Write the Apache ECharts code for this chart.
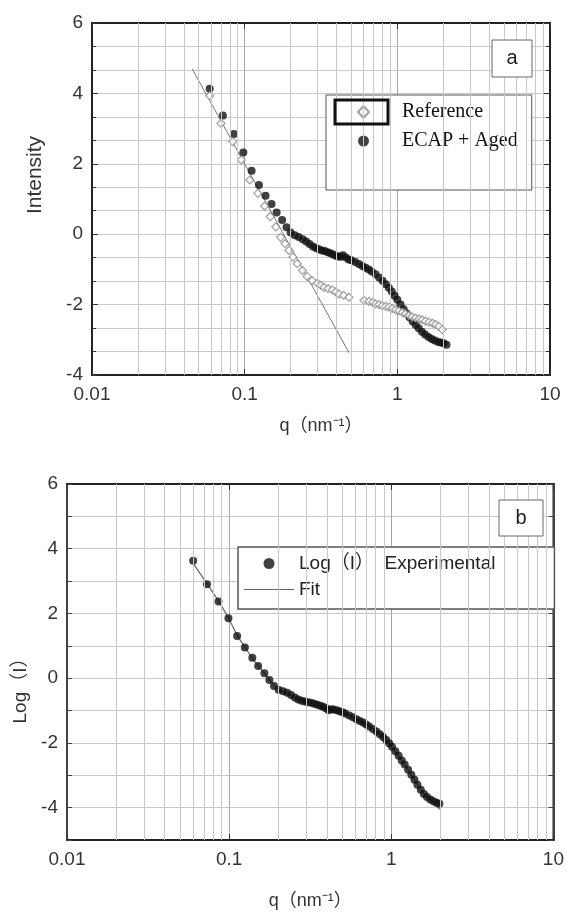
<!DOCTYPE html>
<html>
<head>
<meta charset="utf-8">
<script src="https://cdn.jsdelivr.net/npm/echarts@6/dist/echarts.min.js"></script>
<style>
  html, body { margin: 0; padding: 0; background: #fff; }
  #chart { width: 567px; height: 918px; }
</style>
</head>
<body>
<div id="chart"></div>
<script>
// ---- tick labels ----
const xTickLabels = ['0.01', '0.1', '1', '10'];
const yTickLabelsA = ['-4', '-2', '0', '2', '4', '6'];
const yTickLabelsB = ['-4', '-2', '0', '2', '4', '6'];
// minor log grid positions (2..9 of each decade)
const minorQ = [0.02, 0.03, 0.04, 0.05, 0.06, 0.07, 0.08, 0.09,
  0.2, 0.3, 0.4, 0.5, 0.6, 0.7, 0.8, 0.9,
  2, 3, 4, 5, 6, 7, 8, 9];

// ---- panel a : Reference (open diamonds) ----
const refQ = [0.059, 0.070, 0.0835, 0.095, 0.108, 0.122, 0.135, 0.147, 0.160, 0.172,
  0.184, 0.195, 0.207, 0.221, 0.239, 0.257, 0.277, 0.299, 0.315, 0.331,
  0.352, 0.375, 0.395, 0.415, 0.445, 0.482, 0.605, 0.652, 0.690, 0.721,
  0.760, 0.798, 0.840, 0.881, 0.925, 0.975, 1.025, 1.079, 1.13, 1.192,
  1.25, 1.318, 1.39, 1.458, 1.53, 1.611, 1.70, 1.782, 1.87, 1.972];
const refI = [3.93, 3.15, 2.63, 2.11, 1.54, 1.16, 0.80, 0.50, 0.21, -0.09,
  -0.27, -0.46, -0.65, -0.84, -1.03, -1.20, -1.32, -1.39, -1.45, -1.51,
  -1.55, -1.58, -1.64, -1.70, -1.74, -1.79, -1.88, -1.91, -1.94, -1.98,
  -2.00, -2.03, -2.05, -2.07, -2.11, -2.15, -2.18, -2.22, -2.26, -2.31,
  -2.35, -2.38, -2.41, -2.43, -2.47, -2.50, -2.53, -2.57, -2.62, -2.71];

// ---- panel a : ECAP + Aged (filled circles) ----
const ecapQ = [0.059, 0.072, 0.085, 0.098, 0.111, 0.124, 0.137, 0.150, 0.162, 0.176,
  0.188, 0.200, 0.213, 0.226, 0.240, 0.253, 0.266, 0.280, 0.293, 0.306,
  0.320, 0.335, 0.350, 0.365, 0.380, 0.395, 0.410, 0.425, 0.440, 0.460,
  0.480, 0.500, 0.530, 0.560, 0.590, 0.620, 0.650, 0.680, 0.720, 0.760,
  0.800, 0.840, 0.880, 0.920, 0.960, 1.00, 1.05, 1.10, 1.15, 1.20,
  1.26, 1.32, 1.38, 1.45, 1.52, 1.60, 1.68, 1.76, 1.85, 1.93, 2.01, 2.10];
const ecapI = [4.13, 3.37, 2.85, 2.32, 1.80, 1.40, 1.09, 0.86, 0.62, 0.40,
  0.20, 0.05, -0.03, -0.08, -0.14, -0.21, -0.28, -0.35, -0.39, -0.43,
  -0.46, -0.48, -0.51, -0.54, -0.58, -0.61, -0.63, -0.64, -0.60, -0.66,
  -0.72, -0.74, -0.79, -0.85, -0.90, -0.95, -1.00, -1.06, -1.14, -1.23,
  -1.32, -1.42, -1.52, -1.63, -1.75, -1.86, -2.00, -2.13, -2.25, -2.36,
  -2.48, -2.58, -2.67, -2.77, -2.85, -2.92, -2.98, -3.02, -3.06, -3.08, -3.10, -3.14];

// ---- panel a : straight fit line ----
const fitAQ = [0.0454, 0.483];
const fitAI = [4.69, -3.37];

// ---- panel b : Log(I) experimental ----
const expQ = [0.060, 0.073, 0.086, 0.099, 0.112, 0.125, 0.139, 0.151, 0.165, 0.177,
  0.189, 0.202, 0.215, 0.228, 0.241, 0.254, 0.267, 0.280, 0.293, 0.306,
  0.320, 0.335, 0.350, 0.365, 0.380, 0.395, 0.410, 0.425, 0.440, 0.460,
  0.480, 0.500, 0.520, 0.550, 0.580, 0.610, 0.640, 0.670, 0.700, 0.730,
  0.770, 0.810, 0.850, 0.890, 0.930, 0.970, 1.01, 1.06, 1.11, 1.16,
  1.21, 1.27, 1.33, 1.39, 1.45, 1.52, 1.59, 1.66, 1.74, 1.82, 1.90, 1.98];
const expLogI = [3.63, 2.90, 2.37, 1.85, 1.30, 0.95, 0.63, 0.38, 0.15, -0.06,
  -0.24, -0.36, -0.40, -0.45, -0.52, -0.60, -0.66, -0.70, -0.72, -0.74,
  -0.76, -0.79, -0.82, -0.85, -0.88, -0.93, -0.99, -0.96, -0.97, -0.99,
  -1.02, -1.05, -1.09, -1.15, -1.21, -1.27, -1.32, -1.37, -1.43, -1.49,
  -1.57, -1.65, -1.73, -1.82, -1.91, -2.01, -2.12, -2.26, -2.40, -2.54,
  -2.67, -2.83, -2.98, -3.14, -3.29, -3.45, -3.58, -3.67, -3.75, -3.80, -3.85, -3.88];

// ---- panel b : fit curve ----
const fitBQ = [0.060, 0.073, 0.086, 0.099, 0.112, 0.125, 0.139, 0.151, 0.165, 0.177,
  0.190, 0.200, 0.250, 0.300, 0.400, 0.500, 0.600, 0.700, 0.800, 0.900,
  1.00, 1.20, 1.40, 1.60, 1.80, 1.99];
const fitBLogI = [3.55, 2.92, 2.38, 1.86, 1.33, 0.96, 0.62, 0.38, 0.15, -0.05,
  -0.22, -0.33, -0.57, -0.73, -0.92, -1.05, -1.25, -1.43, -1.63, -1.84,
  -2.10, -2.65, -3.16, -3.58, -3.82, -4.05];

const pairs = (xs, ys) => xs.map((x, i) => [x, ys[i]]);

const sans = "'Liberation Sans', 'Noto Sans CJK SC', sans-serif";
const gridLine = '#c8c8c8';

function logX(gridIndex, bottom, nameGap) {
  return {
    type: 'log', logBase: 10, gridIndex: gridIndex, min: 0.01, max: 10, interval: 1,
    position: bottom ? 'bottom' : 'top',
    name: bottom ? 'q（nm⁻¹）' : '', nameLocation: 'middle', nameGap: nameGap,
    nameTextStyle: { fontFamily: sans, fontSize: 18, color: '#333' },
    axisLine: { show: true, onZero: false, lineStyle: { color: '#222', width: 2 } },
    axisTick: { show: true, inside: true, length: 6, lineStyle: { color: '#333' } },
    axisLabel: {
      show: bottom, margin: 10, fontFamily: sans, fontSize: 19, color: '#333',
      formatter: v => xTickLabels[Math.round(Math.log10(v)) + 2]
    },
    splitLine: { show: bottom, lineStyle: { color: '#a8a8a8', width: 1 } }
  };
}

const option = {
  backgroundColor: '#fff',
  animation: false,
  grid: [
    { left: 92, top: 23, width: 458, height: 352, show: true, borderColor: '#222', borderWidth: 2, backgroundColor: '#fff' },
    { left: 67, top: 484, width: 491, height: 356, show: true, borderColor: '#444', borderWidth: 2, backgroundColor: '#fff' }
  ],
  xAxis: [
    logX(0, true, 42),
    logX(0, false, 0),
    logX(1, true, 52),
    logX(1, false, 0)
  ],
  yAxis: [
    {
      type: 'value', gridIndex: 0, min: -4, max: 6, interval: 2, position: 'left',
      name: 'Intensity', nameLocation: 'middle', nameGap: 46,
      nameTextStyle: { fontFamily: sans, fontSize: 21, color: '#333', padding: [0, 0, 0, 48] },
      axisLine: { show: true, onZero: false, lineStyle: { color: '#222', width: 2 } },
      axisTick: { show: true, inside: true, length: 6, lineStyle: { color: '#333' } },
      minorTick: { show: true, splitNumber: 3, length: 4, lineStyle: { color: '#333' } },
      axisLabel: { margin: 9, fontFamily: sans, fontSize: 19, color: '#333',
        formatter: v => yTickLabelsA.includes(String(v)) ? String(v) : '' },
      splitLine: { show: true, lineStyle: { color: gridLine } },
      minorSplitLine: { show: true, lineStyle: { color: gridLine } }
    },
    {
      type: 'value', gridIndex: 0, min: -4, max: 6, interval: 2, position: 'right',
      axisLine: { show: true, onZero: false, lineStyle: { color: '#222', width: 2 } },
      axisTick: { show: true, inside: true, length: 6, lineStyle: { color: '#333' } },
      minorTick: { show: true, splitNumber: 3, length: 4, lineStyle: { color: '#333' } },
      axisLabel: { show: false },
      splitLine: { show: false }
    },
    {
      type: 'value', gridIndex: 1, min: -5, max: 6, interval: 1, position: 'left',
      name: 'Log（I）', nameLocation: 'middle', nameGap: 34,
      nameTextStyle: { fontFamily: sans, fontSize: 19, color: '#333', padding: [0, 48, 0, 0] },
      axisLine: { show: true, onZero: false, lineStyle: { color: '#444', width: 2 } },
      axisTick: { show: true, inside: true, length: 5, lineStyle: { color: '#444' } },
      axisLabel: { margin: 9, fontFamily: sans, fontSize: 19, color: '#333',
        formatter: v => yTickLabelsB.includes(String(v)) ? String(v) : '' },
      splitLine: { show: true, lineStyle: { color: gridLine } }
    },
    {
      type: 'value', gridIndex: 1, min: -5, max: 6, interval: 1, position: 'right',
      axisLine: { show: true, onZero: false, lineStyle: { color: '#444', width: 2 } },
      axisTick: { show: true, inside: true, length: 5, lineStyle: { color: '#444' } },
      axisLabel: { show: false },
      splitLine: { show: false }
    }
  ],
  legend: [
    {
      data: [{ name: 'Reference', icon: 'diamond' }, { name: 'ECAP + Aged', icon: 'circle' }],
      orient: 'vertical', left: 326, top: 95,
      padding: [7, 14, 39, 31], itemWidth: 11, itemHeight: 12, itemGap: 9,
      textStyle: { fontFamily: "'Liberation Serif', serif", fontSize: 20, color: '#111', padding: [0, 0, 0, 28] },
      borderColor: '#555', borderWidth: 1, backgroundColor: '#fff', selectedMode: false
    },
    {
      data: [
        { name: 'Log（I）  Experimental', icon: 'circle' },
        { name: 'Fit', icon: 'path://M0 0 L50 0 L50 1 L0 1 Z', itemStyle: { color: '#666' } }
      ],
      orient: 'vertical', left: 238, top: 547,
      padding: [7, 59, 10, 6], itemWidth: 50, itemHeight: 11, itemGap: 7,
      textStyle: { fontFamily: sans, fontSize: 19, color: '#222' },
      borderColor: '#555', borderWidth: 1.5, backgroundColor: '#fff', selectedMode: false
    }
  ],
  graphic: [
    { type: 'rect', shape: { x: 335, y: 100, width: 53, height: 24 },
      style: { fill: 'none', stroke: '#111', lineWidth: 3 }, z: 100 },
    { type: 'rect', shape: { x: 492, y: 40, width: 40, height: 37 },
      style: { fill: '#fff', stroke: '#666', lineWidth: 1 }, z: 100 },
    { type: 'text', x: 512, y: 58, z: 101,
      style: { text: 'a', fontFamily: sans, fontSize: 20, fill: '#222', align: 'center', verticalAlign: 'middle' } },
    { type: 'rect', shape: { x: 499, y: 500, width: 44, height: 36 },
      style: { fill: '#fff', stroke: '#666', lineWidth: 1 }, z: 100 },
    { type: 'text', x: 521, y: 518, z: 101,
      style: { text: 'b', fontFamily: sans, fontSize: 20, fill: '#222', align: 'center', verticalAlign: 'middle' } }
  ],
  series: [
    {
      name: 'fitA', type: 'line', xAxisIndex: 0, yAxisIndex: 0,
      data: pairs(fitAQ, fitAI), symbol: 'none', silent: true, z: 1,
      lineStyle: { color: '#777', width: 1 },
      markLine: {
        silent: true, symbol: ['none', 'none'], label: { show: false },
        lineStyle: { color: gridLine, width: 1, type: 'solid' },
        emphasis: { disabled: true },
        data: minorQ.map(q => ({ xAxis: q }))
      }
    },
    {
      name: 'ECAP + Aged', type: 'scatter', xAxisIndex: 0, yAxisIndex: 0,
      data: pairs(ecapQ, ecapI), symbol: 'circle', symbolSize: 8, z: 3,
      itemStyle: { color: '#111' }
    },
    {
      name: 'Reference', type: 'scatter', xAxisIndex: 0, yAxisIndex: 0,
      data: pairs(refQ, refI), symbol: 'diamond', symbolSize: 8, z: 4,
      itemStyle: { color: '#fff', borderColor: '#888', borderWidth: 1.2 }
    },
    {
      name: 'Fit', type: 'line', xAxisIndex: 2, yAxisIndex: 2,
      data: pairs(fitBQ, fitBLogI), symbol: 'none', smooth: true, silent: true, z: 1,
      itemStyle: { color: '#666' },
      lineStyle: { color: '#666', width: 1.2 },
      markLine: {
        silent: true, symbol: ['none', 'none'], label: { show: false },
        lineStyle: { color: gridLine, width: 1, type: 'solid' },
        emphasis: { disabled: true },
        data: minorQ.map(q => ({ xAxis: q }))
      }
    },
    {
      name: 'Log（I）  Experimental', type: 'scatter', xAxisIndex: 2, yAxisIndex: 2,
      data: pairs(expQ, expLogI), symbol: 'circle', symbolSize: 8, z: 3,
      itemStyle: { color: '#111' }
    }
  ]
};

const chart = echarts.init(document.getElementById('chart'));
chart.setOption(option);
</script>
</body>
</html>
